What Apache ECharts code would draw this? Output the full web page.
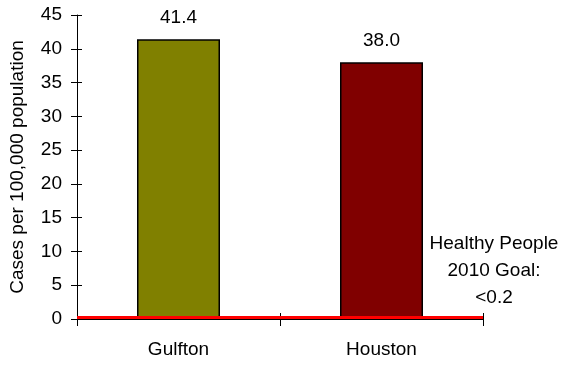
<!DOCTYPE html>
<html>
<head>
<meta charset="utf-8">
<script src="https://cdn.jsdelivr.net/npm/echarts@6/dist/echarts.min.js"></script>
<style>html,body{margin:0;padding:0;background:#fff}#c{width:566px;height:365px}</style>
</head>
<body>
<div id="c"></div>
<script>
const categories = ['Gulfton', 'Houston'];
const values = [41.4, 38.0];
const barColors = ['#808000', '#800000'];
const goalValue = 0.2;
const goalText = 'Healthy People\n2010 Goal:\n<0.2';
const yTicks = { min: 0, max: 45, interval: 5 };

const chart = echarts.init(document.getElementById('c'), null, { renderer: 'canvas' });
const font = 'Liberation Sans, Arial, sans-serif';
const grid = { left: 73, right: 83, top: 15, bottom: 46 };
chart.setOption({
  animation: false,
  grid: grid,
  xAxis: [{
    type: 'category', data: categories,
    axisLine: { lineStyle: { color: '#000', width: 1 } },
    axisTick: { show: true, length: 7, lineStyle: { color: '#000' } },
    axisLabel: { color: '#000', fontSize: 19, fontFamily: font, margin: 21 }
  }, {
    type: 'category', data: categories, position: 'bottom',
    axisLine: { show: false },
    axisTick: { show: true, inside: true, length: 6, lineStyle: { color: '#000' } },
    axisLabel: { show: false }
  }],
  yAxis: [{
    type: 'value', min: yTicks.min, max: yTicks.max, interval: yTicks.interval,
    name: 'Cases per 100,000 population', nameLocation: 'middle', nameGap: 50,
    nameTextStyle: { color: '#000', fontSize: 19, fontFamily: font },
    axisLine: { show: true, lineStyle: { color: '#000' } },
    axisTick: { show: true, length: 6, lineStyle: { color: '#000' } },
    axisLabel: { color: '#000', fontSize: 19, fontFamily: font, margin: 15 },
    splitLine: { show: false }
  }, {
    type: 'value', min: yTicks.min, max: yTicks.max, interval: yTicks.interval, position: 'left',
    axisLine: { show: false },
    axisTick: { show: true, inside: true, length: 5, lineStyle: { color: '#000' } },
    axisLabel: { show: false }, splitLine: { show: false }
  }],
  series: [{
    type: 'bar', barWidth: 83,
    data: values.map((v, i) => ({ value: v, itemStyle: { color: barColors[i] } })),
    itemStyle: { borderColor: '#000', borderWidth: 1.5 },
    label: { show: true, position: 'top', distance: 12, color: '#000', fontSize: 19, fontFamily: font,
      formatter: p => p.value.toFixed(1) },
    markLine: {
      silent: true, symbol: 'none', label: { show: false },
      lineStyle: { color: '#ff0000', width: 3, type: 'solid' },
      data: [{ yAxis: goalValue }]
    }
  }],
  graphic: [{
    type: 'text', x: 494, y: 230,
    style: { text: goalText, fill: '#000', font: '19px ' + font, align: 'center', verticalAlign: 'top', lineHeight: 27 }
  }]
});
</script>
</body>
</html>
